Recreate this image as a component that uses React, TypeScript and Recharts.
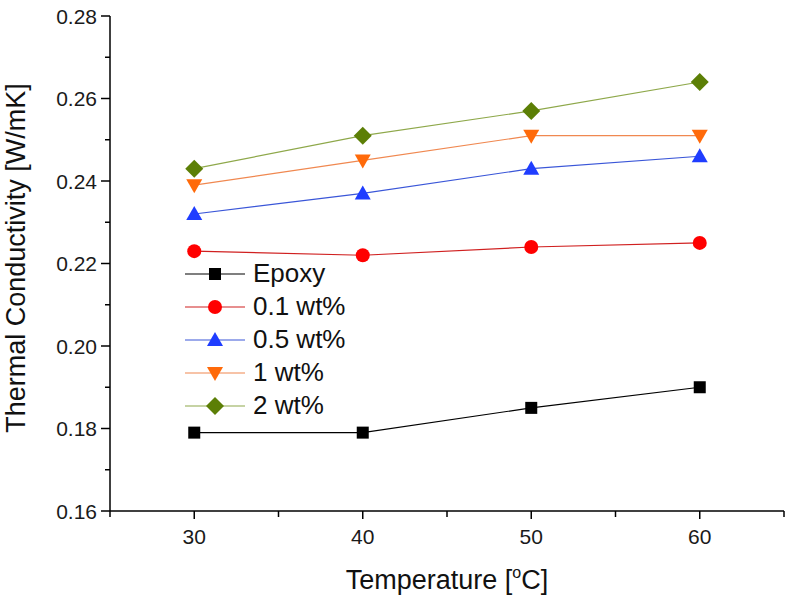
import { LineChart, Line, XAxis, YAxis, Label } from 'recharts'

const temperatures = [30, 40, 50, 60]
const epoxy = [0.179, 0.179, 0.185, 0.19]
const wt01 = [0.223, 0.222, 0.224, 0.225]
const wt05 = [0.232, 0.237, 0.243, 0.246]
const wt1 = [0.239, 0.245, 0.251, 0.251]
const wt2 = [0.243, 0.251, 0.257, 0.264]

const xTicks = [25, 30, 35, 40, 45, 50, 55, 60, 65]
const xLabels = [30, 40, 50, 60]
const yTicks = [0.16, 0.17, 0.18, 0.19, 0.2, 0.21, 0.22, 0.23, 0.24, 0.25, 0.26, 0.27, 0.28]
const yLabels = ['0.16', '0.18', '0.20', '0.22', '0.24', '0.26', '0.28']

const FONT = '"Liberation Sans", Arial, sans-serif'

type Shape = 'square' | 'circle' | 'up' | 'down' | 'diamond'

const series: { key: string; name: string; shape: Shape; fill: string; stroke: string }[] = [
  { key: 'epoxy', name: 'Epoxy', shape: 'square', fill: '#000000', stroke: '#000000' },
  { key: 'wt01', name: '0.1 wt%', shape: 'circle', fill: '#ff0000', stroke: '#d02020' },
  { key: 'wt05', name: '0.5 wt%', shape: 'up', fill: '#1f3dff', stroke: '#3a56d8' },
  { key: 'wt1', name: '1 wt%', shape: 'down', fill: '#ff6a0a', stroke: '#f08850' },
  { key: 'wt2', name: '2 wt%', shape: 'diamond', fill: '#5c7f06', stroke: '#8ea84a' },
]

const data = temperatures.map((t, i) => ({
  temp: t,
  epoxy: epoxy[i],
  wt01: wt01[i],
  wt05: wt05[i],
  wt1: wt1[i],
  wt2: wt2[i],
}))

function Marker({ cx, cy, shape, fill }: { cx: number; cy: number; shape: Shape; fill: string }) {
  if (shape === 'square') return <rect x={cx - 6} y={cy - 6} width={12} height={12} fill={fill} />
  if (shape === 'circle') return <circle cx={cx} cy={cy} r={7} fill={fill} />
  if (shape === 'up')
    return <polygon points={`${cx},${cy - 8} ${cx + 8},${cy + 6} ${cx - 8},${cy + 6}`} fill={fill} />
  if (shape === 'down')
    return <polygon points={`${cx},${cy + 8} ${cx + 8},${cy - 6} ${cx - 8},${cy - 6}`} fill={fill} />
  return <polygon points={`${cx},${cy - 9} ${cx + 9},${cy} ${cx},${cy + 9} ${cx - 9},${cy}`} fill={fill} />
}

function XTick(props: any) {
  const { x, y, payload } = props
  const major = xLabels.includes(payload.value)
  return (
    <g>
      <line x1={x} x2={x} y1={y} y2={y + (major ? 8 : 6)} stroke="#000" strokeWidth={1.5} />
      {major && (
        <text x={x} y={y + 33} textAnchor="middle" fontSize={21} fontFamily={FONT} fill="#1a1a1a">
          {payload.value}
        </text>
      )}
    </g>
  )
}

function YTick(props: any) {
  const { x, y, payload } = props
  const label = payload.value.toFixed(2)
  const major = yLabels.includes(label)
  return (
    <g>
      <line x1={x - (major ? 9 : 5)} x2={x} y1={y} y2={y} stroke="#000" strokeWidth={1.5} />
      {major && (
        <text x={x - 13} y={y + 7.5} textAnchor="end" fontSize={21} fontFamily={FONT} fill="#1a1a1a">
          {label}
        </text>
      )}
    </g>
  )
}

function LegendBox() {
  return (
    <div style={{ fontFamily: FONT, position: 'absolute', left: 185, top: 257 }}>
      {series.map((s) => (
        <div key={s.key} style={{ display: 'flex', alignItems: 'center', height: 33 }}>
          <svg width={64} height={24}>
            <line x1={0} x2={60} y1={12} y2={12} stroke={s.stroke} strokeWidth={1.2} />
            <Marker cx={30} cy={12} shape={s.shape} fill={s.fill} />
          </svg>
          <span style={{ fontSize: 26, color: '#111', marginLeft: 4 }}>{s.name}</span>
        </div>
      ))}
    </div>
  )
}

export default function App() {
  return (
    <div style={{ position: 'absolute', left: 0, top: 0, width: 786, height: 597, background: '#fff' }}>
      <LineChart width={786} height={597} data={data} margin={{ top: 16, right: 2, bottom: 0, left: 0 }}>
        <XAxis
          dataKey="temp"
          type="number"
          domain={[25, 65]}
          ticks={xTicks}
          interval={0}
          tickSize={0}
          tickMargin={0}
          tickLine={false}
          tick={<XTick />}
          axisLine={{ stroke: '#000', strokeWidth: 1.5 }}
          height={86}
        >
          <Label
            content={() => (
              <text x={447} y={589} textAnchor="middle" fontSize={27} fontFamily={FONT} fill="#111">
                Temperature [<tspan fontSize={16} dy={-11}>o</tspan>
                <tspan dy={11}>C]</tspan>
              </text>
            )}
          />
        </XAxis>
        <YAxis
          type="number"
          domain={[0.16, 0.28]}
          ticks={yTicks}
          interval={0}
          tickSize={0}
          tickMargin={0}
          tickLine={false}
          tick={<YTick />}
          axisLine={{ stroke: '#000', strokeWidth: 1.5 }}
          width={110}
        >
          <Label
            content={() => (
              <text
                x={0}
                y={0}
                transform="translate(25, 258) rotate(-90)"
                textAnchor="middle"
                fontSize={27}
                fontFamily={FONT}
                fill="#111"
              >
                Thermal Conductivity [W/mK]
              </text>
            )}
          />
        </YAxis>
        {series.map((s) => (
          <Line
            key={s.key}
            dataKey={s.key}
            name={s.name}
            stroke={s.stroke}
            strokeWidth={1.2}
            isAnimationActive={false}
            dot={(p: any) => <Marker key={`${s.key}-${p.index}`} cx={p.cx} cy={p.cy} shape={s.shape} fill={s.fill} />}
            activeDot={false}
          />
        ))}
      </LineChart>
      <LegendBox />
    </div>
  )
}
